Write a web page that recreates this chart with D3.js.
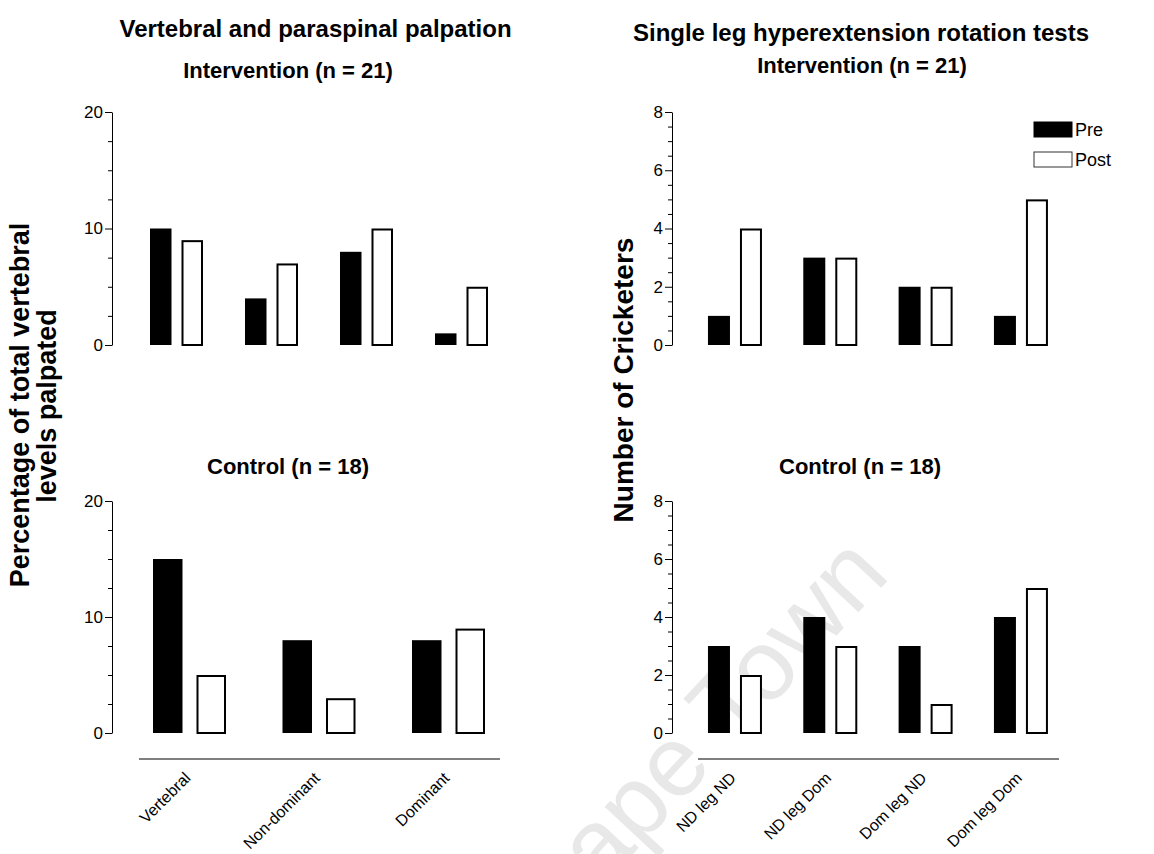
<!DOCTYPE html>
<html>
<head>
<meta charset="utf-8">
<script src="https://cdn.jsdelivr.net/npm/d3@7"></script>
<style>
  html, body { margin: 0; padding: 0; background: #fff; }
  svg { display: block; font-family: "Liberation Sans", Arial, sans-serif; }
</style>
</head>
<body>
<svg id="chart" width="1154" height="854"></svg>
<script>
// ---------- DATA ----------
const series = ["Pre", "Post"];

const palpationCatsTop = ["G1", "G2", "G3", "G4"];
const palpationInterventionPre  = [10, 4, 8, 1];
const palpationInterventionPost = [9, 7, 10, 5];

const palpationCats = ["Vertebral", "Non-dominant", "Dominant"];
const palpationControlPre  = [15, 8, 8];
const palpationControlPost = [5, 3, 9];

const slhCats = ["ND leg ND", "ND leg Dom", "Dom leg ND", "Dom leg Dom"];
const slhInterventionPre  = [1, 3, 2, 1];
const slhInterventionPost = [4, 3, 2, 5];
const slhControlPre  = [3, 4, 3, 4];
const slhControlPost = [2, 3, 1, 5];

const palpTicks = [0, 10, 20];
const palpMinor = [2.5, 5, 7.5, 12.5, 15, 17.5];
const slhTicks = [0, 2, 4, 6, 8];
const slhMinor = [0.5, 1, 1.5, 2.5, 3, 3.5, 4.5, 5, 5.5, 6.5, 7, 7.5];

const svg = d3.select("#chart");

// ---------- watermark ----------
svg.append("text")
  .attr("transform", "translate(696,735) rotate(-47)")
  .attr("text-anchor", "middle")
  .attr("dy", "0.35em")
  .attr("font-size", 100)
  .attr("fill", "#e8e8e8")
  .text("Cape Town");

function panel(opts) {
  const { cats, pre, post, yMax, ticks, minor, axisX, yTop, yBottom, range, barW, gap, xLine, labels } = opts;
  const y = d3.scaleLinear().domain([0, yMax]).range([yBottom, yTop]);
  const x = d3.scaleBand().domain(cats).range(range).padding(0);
  const inner = d3.scaleBand().domain(series)
    .range([x.bandwidth() / 2 - barW - gap / 2, x.bandwidth() / 2 + barW + gap / 2])
    .paddingInner(gap / (barW + gap));
  const g = svg.append("g");

  const rows = cats.map((c, i) => ({ c, Pre: pre[i], Post: post[i] }));
  const grp = g.selectAll("g.grp").data(rows).join("g")
    .attr("transform", d => `translate(${x(d.c)},0)`);
  grp.append("rect")
    .attr("x", inner("Pre")).attr("width", inner.bandwidth())
    .attr("y", d => y(d.Pre)).attr("height", d => y(0) - y(d.Pre))
    .attr("fill", "#000");
  grp.append("rect")
    .attr("x", d => inner("Post") + 1).attr("width", inner.bandwidth() - 2)
    .attr("y", d => y(d.Post) + 1).attr("height", d => y(0) - y(d.Post) - 1)
    .attr("fill", "#fff").attr("stroke", "#000").attr("stroke-width", 2);

  const minorAx = g.append("g").attr("transform", `translate(${axisX},0)`)
    .call(d3.axisLeft(y).tickValues(minor).tickSize(4).tickFormat(""));
  minorAx.select(".domain").remove();
  const ax = g.append("g").attr("transform", `translate(${axisX},0)`)
    .call(d3.axisLeft(y).tickValues(ticks).tickSize(7).tickPadding(2).tickSizeOuter(0));
  ax.selectAll("text")
    .style("font-size", "17px")
    .style("font-family", "'Liberation Sans', Arial, sans-serif")
    .attr("fill", "#000");
  g.selectAll(".tick line").attr("stroke", "#000");
  ax.select(".domain").attr("stroke", "#000");

  if (xLine) {
    g.append("line").attr("x1", xLine[0]).attr("x2", xLine[1])
      .attr("y1", xLine[2]).attr("y2", xLine[2]).attr("stroke", "#000").attr("stroke-width", 1.2);
  }
  if (labels) {
    g.selectAll("text.xl").data(cats).join("text")
      .attr("class", "xl")
      .attr("transform", d => `translate(${x(d) + x.bandwidth() / 2 + 2},${xLine[2] + 20}) rotate(-45)`)
      .attr("text-anchor", "end")
      .attr("font-size", 16)
      .text(d => d);
  }
}

// top-left
panel({ cats: palpationCatsTop, pre: palpationInterventionPre, post: palpationInterventionPost,
  yMax: 20, ticks: palpTicks, minor: palpMinor, axisX: 112, yTop: 112, yBottom: 345,
  range: [129, 509], barW: 21.5, gap: 10 });
// bottom-left
panel({ cats: palpationCats, pre: palpationControlPre, post: palpationControlPost,
  yMax: 20, ticks: palpTicks, minor: palpMinor, axisX: 112, yTop: 501, yBottom: 733,
  range: [124.75, 513.25], barW: 29.5, gap: 14, xLine: [139, 500, 759], labels: true });
// top-right
panel({ cats: slhCats, pre: slhInterventionPre, post: slhInterventionPost,
  yMax: 8, ticks: slhTicks, minor: slhMinor, axisX: 672, yTop: 112, yBottom: 345,
  range: [687.3, 1068.6], barW: 22, gap: 10 });
// bottom-right
panel({ cats: slhCats, pre: slhControlPre, post: slhControlPost,
  yMax: 8, ticks: slhTicks, minor: slhMinor, axisX: 672, yTop: 501, yBottom: 733,
  range: [687.3, 1068.6], barW: 22, gap: 10, xLine: [698, 1059, 759], labels: true });

// ---------- titles ----------
function txt(x, y, s, size, weight, rot) {
  return svg.append("text")
    .attr("transform", `translate(${x},${y})` + (rot ? ` rotate(${rot})` : ""))
    .attr("text-anchor", "middle")
    .attr("font-size", size).attr("font-weight", weight || "normal")
    .attr("fill", "#000").text(s);
}
txt(315.5, 37, "Vertebral and paraspinal palpation", 24, "bold");
txt(288, 78, "Intervention (n = 21)", 22, "bold");
txt(288, 474, "Control (n = 18)", 22, "bold");
txt(861, 41, "Single leg hyperextension rotation tests", 24, "bold");
txt(862, 73, "Intervention (n = 21)", 22, "bold");
txt(860, 474, "Control (n = 18)", 22, "bold");

txt(29, 405, "Percentage of total vertebral", 27, "bold", -90);
txt(56, 406, "levels palpated", 27, "bold", -90);
txt(633, 380, "Number of Cricketers", 28, "bold", -90);

// ---------- legend ----------
const legend = svg.append("g").attr("transform", "translate(1034,122)");
legend.selectAll("rect").data(series).join("rect")
  .attr("x", 0).attr("y", (d, i) => i * 30)
  .attr("width", 38).attr("height", 15)
  .attr("fill", d => d === "Pre" ? "#000" : "#fff")
  .attr("stroke", d => d === "Pre" ? "#000" : "#333").attr("stroke-width", 1);
legend.selectAll("text").data(series).join("text")
  .attr("x", 41).attr("y", (d, i) => i * 30 + 7.5)
  .attr("dy", "0.36em")
  .attr("font-size", 18).attr("fill", "#000").text(d => d);
</script>
</body>
</html>
